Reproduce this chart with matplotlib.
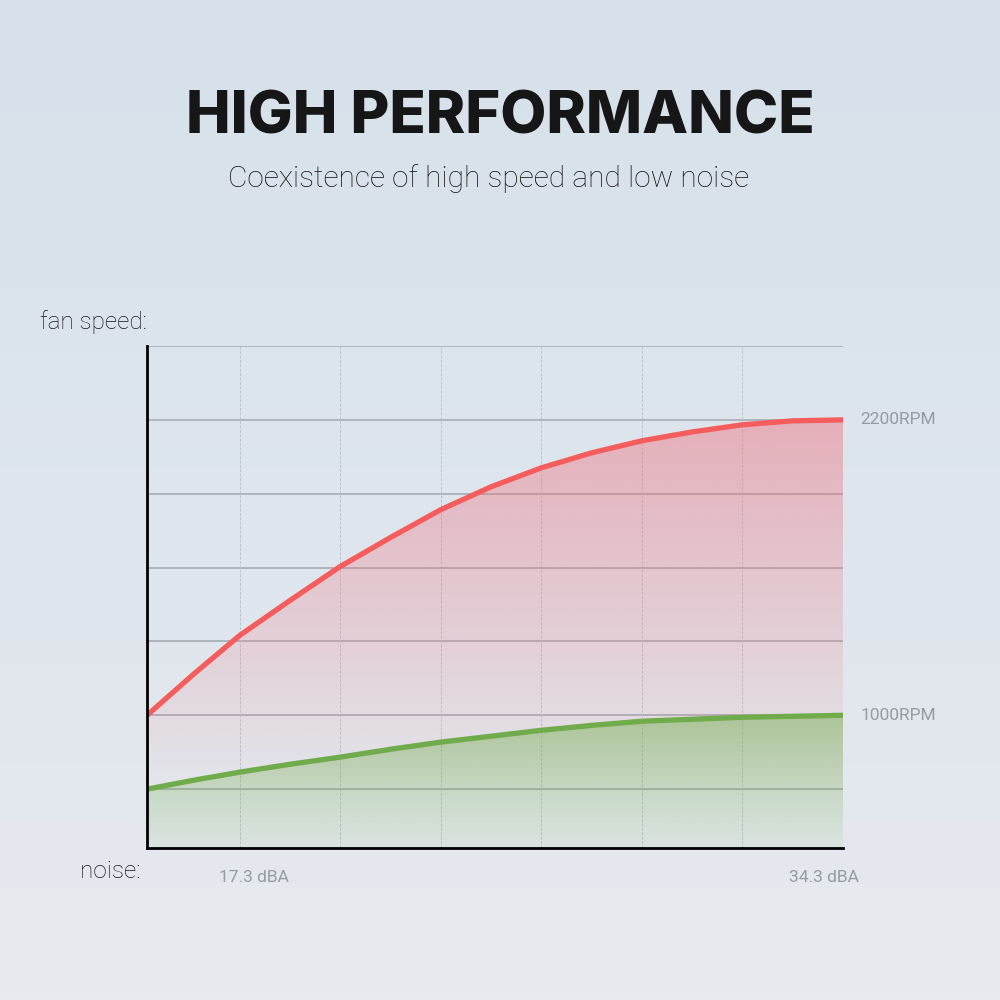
import numpy as np
import matplotlib
matplotlib.use('Agg')
import matplotlib.pyplot as plt

# noise axis (arbitrary steps, one step per vertical grid cell) and fan speed in RPM
noise_steps = [0, 0.46, 0.92, 1.42, 1.92, 2.42, 2.92, 3.42, 3.92, 4.42, 4.92, 5.42, 5.92, 6.42, 6.92]
rpm_high = [1000, 1166, 1324, 1466, 1604, 1722, 1835, 1928, 2005, 2066, 2115, 2151, 2180, 2196, 2200]
rpm_low = [700, 736, 769, 801, 830, 862, 891, 915, 939, 959, 976, 984, 992, 996, 1000]

rpm_grid = [700, 1000, 1300, 1600, 1900, 2200, 2500]
noise_grid = [0.92, 1.92, 2.92, 3.92, 4.92, 5.92, 6.92]
end_labels = ['2200RPM', '1000RPM']
noise_labels = ['17.3 dBA', '34.3 dBA']

fig = plt.figure(figsize=(10, 10), dpi=100)

# background gradient
bg = fig.add_axes([0, 0, 1, 1], zorder=-10)
t = np.linspace(0, 1, 256)[:, None]
top = np.array([214, 225, 235]) / 255
bot = np.array([231, 234, 239]) / 255
grad = top[None, None, :] * (1 - t[..., None]) + bot[None, None, :] * t[..., None]
grad = np.repeat(grad, 2, axis=1)
bg.imshow(grad, aspect='auto', extent=[0, 1, 0, 1], origin='upper')
bg.axis('off')

ax = fig.add_axes([0.147, 0.152, 0.696, 0.502])
ax.set_facecolor('none')
xmin, xmax = 0, 6.92
ymin, ymax = 461, 2500
ax.set_xlim(xmin, xmax)
ax.set_ylim(ymin, ymax)

# grid
for y in rpm_grid:
    ax.plot([xmin, xmax], [y, y], color='#adb4bc', lw=1.4, zorder=1, solid_capstyle='butt')
for x in noise_grid:
    ax.plot([x, x], [ymin, ymax], color='#bcc2ca', lw=0.7, ls=(0, (3, 1.5)), zorder=1)


def gradient_fill(xs, ys, rgb, a_top, a_bot, y_top, y_bot, z):
    poly = ax.fill_between(xs, ys, ymin, facecolor='none', edgecolor='none')
    n = 256
    yy = np.linspace(ymin, ymax, n)
    alpha = np.interp(yy, [y_bot, y_top], [a_bot, a_top])
    img = np.zeros((n, 2, 4))
    img[..., :3] = np.array(rgb) / 255
    img[..., 3] = alpha[:, None]
    im = ax.imshow(img, extent=[xmin, xmax, ymin, ymax], origin='lower',
                   aspect='auto', zorder=z, interpolation='bilinear')
    im.set_clip_path(poly.get_paths()[0], transform=ax.transData)


gradient_fill(noise_steps, rpm_high, (240, 110, 122), 0.45, 0.0, 2200, 650, 2)
gradient_fill(noise_steps, rpm_low, (118, 175, 78), 0.5, 0.08, 1000, ymin, 3)

ax.plot(noise_steps, rpm_high, color='#f55d5d', lw=3.8, zorder=5,
        solid_capstyle='round', solid_joinstyle='round')
ax.plot(noise_steps, rpm_low, color='#70ab4c', lw=3.8, zorder=5,
        solid_capstyle='round', solid_joinstyle='round')

ax.set_xticks([])
ax.set_yticks([])
for s in ['top', 'right']:
    ax.spines[s].set_visible(False)
for s in ['left', 'bottom']:
    ax.spines[s].set_color('black')
    ax.spines[s].set_linewidth(2)
    ax.spines[s].set_zorder(6)

grey = '#959ba3'
# end labels
for lab, y in zip(end_labels, [rpm_high[-1], rpm_low[-1]]):
    ax.text(xmax + 0.17, y, lab, fontsize=12.5, color=grey, va='center', ha='left',
            family='Roboto', fontweight='normal', clip_on=False)

fig.text(0.254, 0.123, noise_labels[0], fontsize=12.5, color=grey, ha='center', va='center',
         family='Roboto', fontweight='normal')
fig.text(0.824, 0.123, noise_labels[1], fontsize=12.5, color=grey, ha='center', va='center',
         family='Roboto', fontweight='normal')

fig.text(0.04, 0.678, 'fan speed:', fontsize=17.5, color='#151515', ha='left', va='center',
         family='Roboto', fontweight='light')
fig.text(0.08, 0.129, 'noise:', fontsize=17.5, color='#151515', ha='left', va='center',
         family='Roboto', fontweight='light')

fig.text(0.5, 0.867, 'HIGH PERFORMANCE', fontsize=43, color='#161616', ha='center', va='baseline',
         family='Inter', fontweight='heavy')
fig.text(0.489, 0.813, 'Coexistence of high speed and low noise', fontsize=21.5, color='#151515',
         ha='center', va='baseline', family='Roboto', fontweight='light')

fig.savefig('out.png', dpi=100)
